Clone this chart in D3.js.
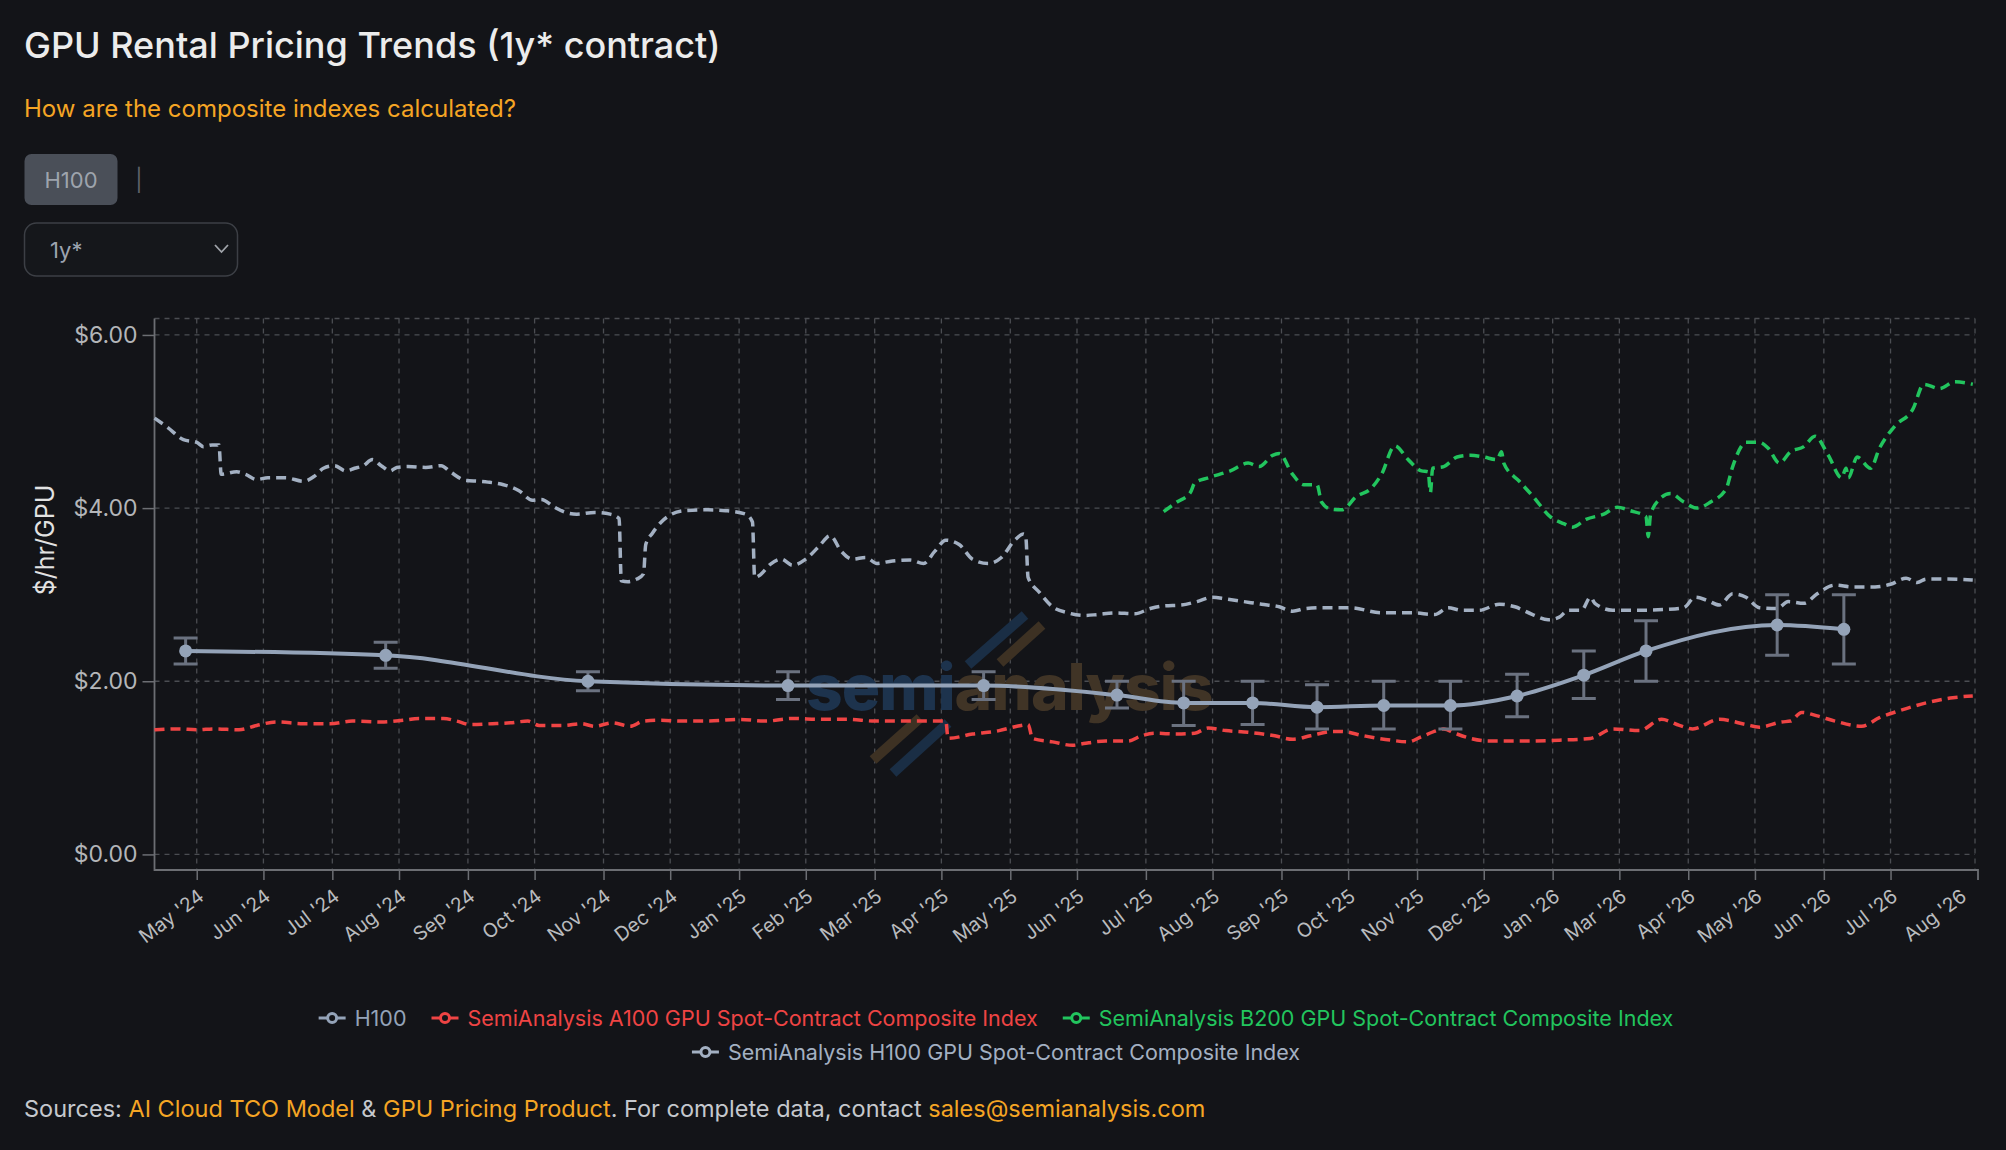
<!DOCTYPE html>
<html>
<head>
<meta charset="utf-8">
<script src="https://cdn.jsdelivr.net/npm/d3@7"></script>
<style>
    html, body { margin: 0; padding: 0; background: #131418; }
    body { width: 2006px; height: 1150px; overflow: hidden; font-family: Inter, "Noto Sans", sans-serif; }
</style>
</head>
<body>
<svg id="chart" width="2006" height="1150"></svg>
<script>
// H100 composite points: [date, value, low, high]
var h100Points = [
    ["2024-05-25", 2.35, 2.20, 2.50],
    ["2024-08-23", 2.30, 2.15, 2.45],
    ["2024-11-22", 2.00, 1.89, 2.11],
    ["2025-02-20", 1.95, 1.79, 2.11],
    ["2025-05-19", 1.95, 1.79, 2.11],
    ["2025-07-18", 1.84, 1.69, 2.00],
    ["2025-08-17", 1.75, 1.49, 2.00],
    ["2025-09-17", 1.75, 1.50, 2.00],
    ["2025-10-16", 1.70, 1.45, 1.96],
    ["2025-11-15", 1.72, 1.45, 2.00],
    ["2025-12-15", 1.72, 1.45, 2.00],
    ["2026-01-14", 1.83, 1.59, 2.08],
    ["2026-02-13", 2.07, 1.80, 2.35],
    ["2026-03-13", 2.35, 2.00, 2.70],
    ["2026-05-11", 2.65, 2.30, 3.00],
    ["2026-06-10", 2.60, 2.20, 3.00]
];

var h100Index = [
    ["2024-05-11",5.04],["2024-05-17",4.93],["2024-05-24",4.79],["2024-05-30",4.76],["2024-06-02",4.71],
    ["2024-06-06",4.73],["2024-06-09",4.73],["2024-06-10",4.39],["2024-06-17",4.42],["2024-06-21",4.39],
    ["2024-06-26",4.33],["2024-07-01",4.35],["2024-07-09",4.35],["2024-07-17",4.31],["2024-07-22",4.37],
    ["2024-07-26",4.46],["2024-07-31",4.49],["2024-08-05",4.43],["2024-08-09",4.46],["2024-08-13",4.49],
    ["2024-08-17",4.56],["2024-08-21",4.49],["2024-08-25",4.43],["2024-08-28",4.47],["2024-09-02",4.48],
    ["2024-09-10",4.47],["2024-09-17",4.49],["2024-09-21",4.42],["2024-09-28",4.32],["2024-10-04",4.31],
    ["2024-10-08",4.30],["2024-10-15",4.27],["2024-10-22",4.20],["2024-10-28",4.09],["2024-11-01",4.10],
    ["2024-11-07",4.01],["2024-11-12",3.95],["2024-11-17",3.93],["2024-11-25",3.95],["2024-12-02",3.93],
    ["2024-12-06",3.88],["2024-12-07",3.16],["2024-12-10",3.15],["2024-12-14",3.18],["2024-12-17",3.24],
    ["2024-12-18",3.58],["2024-12-21",3.71],["2024-12-25",3.84],["2024-12-29",3.92],["2025-01-04",3.97],
    ["2025-01-15",3.98],["2025-01-23",3.97],["2025-02-01",3.93],["2025-02-04",3.84],["2025-02-05",3.20],
    ["2025-02-07",3.22],["2025-02-12",3.35],["2025-02-17",3.41],["2025-02-22",3.34],["2025-02-28",3.41],
    ["2025-03-06",3.56],["2025-03-11",3.68],["2025-03-16",3.50],["2025-03-21",3.41],["2025-03-27",3.43],
    ["2025-04-01",3.36],["2025-04-08",3.39],["2025-04-16",3.40],["2025-04-22",3.36],["2025-04-27",3.50],
    ["2025-05-02",3.63],["2025-05-08",3.58],["2025-05-14",3.41],["2025-05-21",3.36],["2025-05-27",3.43],
    ["2025-06-02",3.63],["2025-06-06",3.70],["2025-06-07",3.66],["2025-06-08",3.20],["2025-06-13",3.03],
    ["2025-06-19",2.86],["2025-06-26",2.79],["2025-07-03",2.76],["2025-07-09",2.77],["2025-07-17",2.79],
    ["2025-07-26",2.78],["2025-08-02",2.84],["2025-08-08",2.87],["2025-08-16",2.88],["2025-08-23",2.92],
    ["2025-08-30",2.97],["2025-09-05",2.95],["2025-09-13",2.92],["2025-09-21",2.89],["2025-09-29",2.86],
    ["2025-10-05",2.81],["2025-10-11",2.84],["2025-10-19",2.85],["2025-10-31",2.85],["2025-11-14",2.79],
    ["2025-11-28",2.79],["2025-12-08",2.77],["2025-12-14",2.85],["2025-12-20",2.82],["2025-12-28",2.82],
    ["2026-01-06",2.89],["2026-01-13",2.86],["2026-01-21",2.77],["2026-01-28",2.71],["2026-02-02",2.74],
    ["2026-02-06",2.82],["2026-02-12",2.82],["2026-02-16",2.97],["2026-02-18",2.90],["2026-02-26",2.82],
    ["2026-03-10",2.82],["2026-03-22",2.83],["2026-03-30",2.85],["2026-04-04",2.97],["2026-04-09",2.94],
    ["2026-04-15",2.88],["2026-04-21",3.01],["2026-04-27",2.97],["2026-05-03",2.85],["2026-05-11",2.84],
    ["2026-05-16",2.92],["2026-05-23",2.90],["2026-05-29",3.01],["2026-06-06",3.11],["2026-06-14",3.09],
    ["2026-06-24",3.09],["2026-07-01",3.12],["2026-07-08",3.19],["2026-07-13",3.14],["2026-07-17",3.18],
    ["2026-07-27",3.18],["2026-08-07",3.17]
];

var a100Index = [
    ["2024-05-11",1.44],["2024-05-22",1.45],["2024-05-30",1.44],["2024-06-07",1.45],["2024-06-18",1.44],
    ["2024-06-26",1.49],["2024-07-05",1.53],["2024-07-17",1.51],["2024-07-29",1.51],["2024-08-08",1.54],
    ["2024-08-21",1.53],["2024-08-31",1.55],["2024-09-07",1.57],["2024-09-18",1.57],["2024-09-24",1.54],
    ["2024-09-30",1.50],["2024-10-10",1.51],["2024-10-18",1.52],["2024-10-26",1.54],["2024-10-31",1.49],
    ["2024-11-11",1.49],["2024-11-19",1.51],["2024-11-25",1.48],["2024-12-03",1.52],["2024-12-11",1.48],
    ["2024-12-17",1.54],["2024-12-25",1.55],["2025-01-02",1.54],["2025-01-15",1.54],["2025-01-29",1.56],
    ["2025-02-10",1.54],["2025-02-22",1.57],["2025-03-07",1.56],["2025-03-19",1.56],["2025-03-31",1.54],
    ["2025-04-12",1.54],["2025-04-24",1.54],["2025-05-02",1.54],["2025-05-03",1.34],["2025-05-14",1.39],
    ["2025-05-26",1.43],["2025-06-03",1.48],["2025-06-08",1.50],["2025-06-10",1.34],["2025-06-19",1.30],
    ["2025-06-28",1.26],["2025-07-03",1.28],["2025-07-13",1.31],["2025-07-23",1.31],["2025-07-29",1.37],
    ["2025-08-04",1.40],["2025-08-14",1.39],["2025-08-22",1.40],["2025-08-28",1.46],["2025-09-05",1.43],
    ["2025-09-15",1.41],["2025-09-27",1.37],["2025-10-05",1.33],["2025-10-13",1.37],["2025-10-23",1.42],
    ["2025-10-27",1.42],["2025-11-06",1.37],["2025-11-18",1.32],["2025-11-26",1.30],["2025-12-02",1.36],
    ["2025-12-09",1.43],["2025-12-12",1.45],["2025-12-17",1.40],["2025-12-24",1.34],["2026-01-01",1.31],
    ["2026-01-17",1.31],["2026-02-02",1.32],["2026-02-16",1.34],["2026-02-26",1.45],["2026-03-10",1.43],
    ["2026-03-20",1.56],["2026-03-28",1.49],["2026-04-03",1.45],["2026-04-15",1.56],["2026-04-27",1.50],
    ["2026-05-03",1.47],["2026-05-13",1.53],["2026-05-17",1.54],["2026-05-22",1.64],["2026-05-29",1.60],
    ["2026-06-06",1.54],["2026-06-18",1.48],["2026-06-26",1.58],["2026-07-05",1.66],["2026-07-17",1.75],
    ["2026-07-29",1.81],["2026-08-07",1.83]
];

var b200Index = [
    ["2025-08-08",3.96],["2025-08-14",4.07],["2025-08-20",4.18],["2025-08-22",4.29],["2025-08-28",4.35],
    ["2025-09-07",4.43],["2025-09-15",4.52],["2025-09-20",4.48],["2025-09-26",4.61],["2025-09-29",4.63],
    ["2025-10-05",4.39],["2025-10-10",4.27],["2025-10-16",4.27],["2025-10-18",4.07],["2025-10-22",3.99],
    ["2025-10-27",3.98],["2025-11-03",4.14],["2025-11-09",4.22],["2025-11-14",4.39],["2025-11-20",4.72],
    ["2025-11-26",4.56],["2025-12-02",4.43],["2025-12-05",4.42],["2025-12-06",4.18],["2025-12-07",4.46],
    ["2025-12-12",4.48],["2025-12-18",4.59],["2025-12-24",4.61],["2025-12-30",4.59],["2026-01-05",4.56],
    ["2026-01-07",4.65],["2026-01-08",4.52],["2026-01-15",4.31],["2026-01-21",4.14],["2026-01-29",3.90],
    ["2026-02-04",3.82],["2026-02-08",3.78],["2026-02-14",3.87],["2026-02-22",3.93],["2026-02-28",4.01],
    ["2026-03-06",3.97],["2026-03-13",3.90],["2026-03-14",3.67],["2026-03-15",3.92],["2026-03-19",4.10],
    ["2026-03-24",4.17],["2026-03-30",4.07],["2026-04-05",4.00],["2026-04-11",4.07],["2026-04-18",4.22],
    ["2026-04-21",4.48],["2026-04-27",4.76],["2026-05-03",4.76],["2026-05-07",4.69],["2026-05-12",4.52],
    ["2026-05-17",4.65],["2026-05-23",4.71],["2026-05-28",4.83],["2026-06-03",4.61],["2026-06-09",4.35],
    ["2026-06-11",4.46],["2026-06-12",4.35],["2026-06-16",4.59],["2026-06-22",4.46],["2026-06-26",4.69],
    ["2026-07-03",4.95],["2026-07-11",5.14],["2026-07-16",5.43],["2026-07-23",5.38],["2026-07-30",5.46],
    ["2026-08-07",5.43]
];

var yTicks = [0, 2, 4, 6];
var xTickLabels = [
    "May '24", "Jun '24", "Jul '24", "Aug '24", "Sep '24", "Oct '24", "Nov '24", "Dec '24",
    "Jan '25", "Feb '25", "Mar '25", "Apr '25", "May '25", "Jun '25", "Jul '25", "Aug '25",
    "Sep '25", "Oct '25", "Nov '25", "Dec '25", "Jan '26", "Mar '26", "Apr '26", "May '26",
    "Jun '26", "Jul '26", "Aug '26"
];
var legendNames = [
    "H100",
    "SemiAnalysis A100 GPU Spot-Contract Composite Index",
    "SemiAnalysis B200 GPU Spot-Contract Composite Index",
    "SemiAnalysis H100 GPU Spot-Contract Composite Index"
];
var legendColors = ["#94a3b8", "#ef4444", "#22c55e", "#a3b0c2"];

var PLOT = { left: 154.5, right: 1975, top: 318.5, bottom: 870 };
var parseDate = d3.timeParse("%Y-%m-%d");

var svg = d3.select("#chart");

// header
svg.append("text")
    .attr("x", 24).attr("y", 58)
    .attr("fill", "#ececec")
    .style("font-size", "36px").style("font-weight", 500)
    .text("GPU Rental Pricing Trends (1y* contract)");

svg.append("text")
    .attr("x", 24).attr("y", 117)
    .attr("fill", "#f5a524")
    .style("font-size", "24px").style("font-weight", 400)
    .text("How are the composite indexes calculated?");

svg.append("rect")
    .attr("x", 24.5).attr("y", 154).attr("width", 93).attr("height", 51).attr("rx", 7)
    .attr("fill", "#4a4f58");
svg.append("text")
    .attr("x", 71).attr("y", 180).attr("dy", "0.35em")
    .attr("text-anchor", "middle").attr("fill", "#9ea4ad")
    .style("font-size", "22px")
    .text("H100");
svg.append("text")
    .attr("x", 139).attr("y", 180).attr("dy", "0.35em")
    .attr("text-anchor", "middle").attr("fill", "#5f636a")
    .style("font-size", "22px")
    .text("|");

svg.append("rect")
    .attr("x", 24.5).attr("y", 223).attr("width", 213).attr("height", 53).attr("rx", 12)
    .attr("fill", "#15171b").attr("stroke", "#3c3f45").attr("stroke-width", 1.5);
svg.append("text")
    .attr("x", 50).attr("y", 250).attr("dy", "0.35em")
    .attr("fill", "#9ca3af")
    .style("font-size", "22px")
    .text("1y*");
svg.append("path")
    .attr("d", "M215,245 L221.5,252 L228,245")
    .attr("fill", "none").attr("stroke", "#a0a4aa").attr("stroke-width", 1.8);

// scales
var x = d3.scaleTime()
    .domain([parseDate("2024-05-11"), parseDate("2026-08-08")])
    .range([PLOT.left, PLOT.right]);

var y = d3.scaleLinear()
    .domain([-0.18, 6.19])
    .range([PLOT.bottom, PLOT.top]);

var tickStart = parseDate("2024-05-30");
var tickDates = xTickLabels.map((d, i) => d3.timeDay.offset(tickStart, Math.floor(i * 30.5)));

// grid
var grid = svg.append("g").attr("stroke", "#4b4d52").attr("stroke-width", 1.3).attr("stroke-dasharray", "5,5");
grid.selectAll(".hgrid")
    .data(yTicks)
    .enter()
    .append("line")
    .attr("x1", PLOT.left).attr("x2", PLOT.right)
    .attr("y1", d => y(d)).attr("y2", d => y(d));
grid.append("line")
    .attr("x1", PLOT.left).attr("x2", PLOT.right)
    .attr("y1", PLOT.top).attr("y2", PLOT.top);
grid.selectAll(".vgrid")
    .data(tickDates.slice(0, -1))
    .enter()
    .append("line")
    .attr("x1", d => x(d)).attr("x2", d => x(d))
    .attr("y1", PLOT.top).attr("y2", PLOT.bottom);
grid.append("line")
    .attr("x1", PLOT.right).attr("x2", PLOT.right)
    .attr("y1", PLOT.top).attr("y2", PLOT.bottom);

// watermark
var wm = svg.append("g");
wm.append("line").attr("x1", 968).attr("y1", 665).attr("x2", 1025).attr("y2", 615)
    .attr("stroke", "#1a2e45").attr("stroke-width", 10);
wm.append("line").attr("x1", 1000).attr("y1", 663).attr("x2", 1042).attr("y2", 625)
    .attr("stroke", "#3d3123").attr("stroke-width", 10);
wm.append("line").attr("x1", 873).attr("y1", 760).attr("x2", 920).attr("y2", 718)
    .attr("stroke", "#3d3123").attr("stroke-width", 10);
wm.append("line").attr("x1", 893).attr("y1", 773).attr("x2", 948).attr("y2", 723)
    .attr("stroke", "#1a2e45").attr("stroke-width", 10);
var wmText = wm.append("text")
    .attr("x", 806).attr("y", 710)
    .style("font-size", "64px").style("font-weight", 800).style("letter-spacing", "-1px");
wmText.append("tspan").attr("fill", "#1d334d").text("semi");
wmText.append("tspan").attr("fill", "#403426").text("analysis");

// axes
var xAxis = d3.axisBottom(x)
    .tickValues(tickDates)
    .tickFormat((d, i) => xTickLabels[i])
    .tickSize(10)
    .tickSizeOuter(0);

var xAxisG = svg.append("g")
    .attr("transform", `translate(0, ${PLOT.bottom})`)
    .call(xAxis);
xAxisG.select(".domain").remove();
xAxisG.selectAll(".tick line").attr("stroke", "#6c6e73").attr("stroke-width", 1.5);
xAxisG.selectAll(".tick").filter((d, i) => i === tickDates.length - 1).select("line").remove();
xAxisG.selectAll(".tick text")
    .attr("fill", "#b9bbbe")
    .style("font-size", "19.5px")
    .style("font-family", "Inter, sans-serif")
    .attr("text-anchor", "end")
    .attr("dy", null)
    .attr("y", 0)
    .attr("transform", "translate(8, 29) rotate(-37)");

var yAxis = d3.axisLeft(y)
    .tickValues(yTicks)
    .tickFormat(d => "$" + d.toFixed(2))
    .tickSize(12)
    .tickPadding(5)
    .tickSizeOuter(0);

var yAxisG = svg.append("g")
    .attr("transform", `translate(${PLOT.left}, 0)`)
    .call(yAxis);
yAxisG.select(".domain").remove();
yAxisG.selectAll(".tick line").attr("stroke", "#6c6e73").attr("stroke-width", 1.5);
yAxisG.selectAll(".tick text")
    .attr("fill", "#b4b6b9")
    .style("font-size", "23px")
    .style("font-family", "Inter, sans-serif");

svg.append("path")
    .attr("d", `M${PLOT.left},${PLOT.top} V${PLOT.bottom} H${PLOT.right + 3} v10`)
    .attr("fill", "none").attr("stroke", "#6c6e73").attr("stroke-width", 1.8);

svg.append("text")
    .attr("transform", "translate(45, 540) rotate(-90)")
    .attr("text-anchor", "middle").attr("dy", "0.35em")
    .attr("fill", "#e2e2e2")
    .style("font-size", "25px")
    .text("$/hr/GPU");

// lines
var dashedLine = d3.line()
    .x(d => x(parseDate(d[0])))
    .y(d => y(d[1]))
    .curve(d3.curveMonotoneX);

var dashedSeries = [
    { data: a100Index, color: legendColors[1] },
    { data: h100Index, color: legendColors[3] },
    { data: b200Index, color: legendColors[2] }
];

svg.selectAll(".index-line")
    .data(dashedSeries)
    .enter()
    .append("path")
    .attr("d", d => dashedLine(d.data))
    .attr("fill", "none")
    .attr("stroke", d => d.color)
    .attr("stroke-width", 3.5)
    .attr("stroke-dasharray", "10,6");

// H100 error bars
var errG = svg.append("g").attr("stroke", "#6b7280").attr("stroke-width", 3);
errG.selectAll(".err")
    .data(h100Points)
    .enter()
    .append("path")
    .attr("fill", "none")
    .attr("d", d => {
        var cx = x(parseDate(d[0]));
        return `M${cx},${y(d[2])} V${y(d[3])} M${cx - 12},${y(d[2])} H${cx + 12} M${cx - 12},${y(d[3])} H${cx + 12}`;
    });

svg.append("path")
    .datum(h100Points)
    .attr("d", d3.line()
        .x(d => x(parseDate(d[0])))
        .y(d => y(d[1]))
        .curve(d3.curveMonotoneX))
    .attr("fill", "none")
    .attr("stroke", legendColors[0])
    .attr("stroke-width", 4);

svg.selectAll(".pt")
    .data(h100Points)
    .enter()
    .append("circle")
    .attr("cx", d => x(parseDate(d[0])))
    .attr("cy", d => y(d[1]))
    .attr("r", 6.5)
    .attr("fill", legendColors[0]);

// legend
var legendRows = [[0, 1, 2], [3]];
var legendY = [1018, 1052];
legendRows.forEach((row, r) => {
    var g = svg.append("g");
    var cursor = 0;
    row.forEach(idx => {
        var item = g.append("g").attr("transform", `translate(${cursor}, 0)`);
        item.append("line")
            .attr("x1", 0).attr("x2", 27).attr("y1", 0).attr("y2", 0)
            .attr("stroke", legendColors[idx]).attr("stroke-width", 3);
        item.append("circle")
            .attr("cx", 13.5).attr("cy", 0).attr("r", 4.5)
            .attr("fill", "#131418").attr("stroke", legendColors[idx]).attr("stroke-width", 3);
        var t = item.append("text")
            .attr("x", 36).attr("y", 0).attr("dy", "0.35em")
            .attr("fill", legendColors[idx])
            .style("font-size", "21.5px")
            .text(legendNames[idx]);
        cursor += 36 + t.node().getComputedTextLength() + 25;
    });
    var width = cursor - 25;
    g.attr("transform", `translate(${996 - width / 2}, ${legendY[r]})`);
});

// sources
var src = svg.append("text")
    .attr("x", 24).attr("y", 1117)
    .style("font-size", "23.5px")
    .attr("fill", "#c5c8cd");
src.append("tspan").text("Sources: ");
src.append("tspan").attr("fill", "#f5a524").text("AI Cloud TCO Model");
src.append("tspan").text(" & ");
src.append("tspan").attr("fill", "#f5a524").text("GPU Pricing Product");
src.append("tspan").text(". For complete data, contact ");
src.append("tspan").attr("fill", "#f5a524").text("sales@semianalysis.com");
</script>
</body>
</html>
